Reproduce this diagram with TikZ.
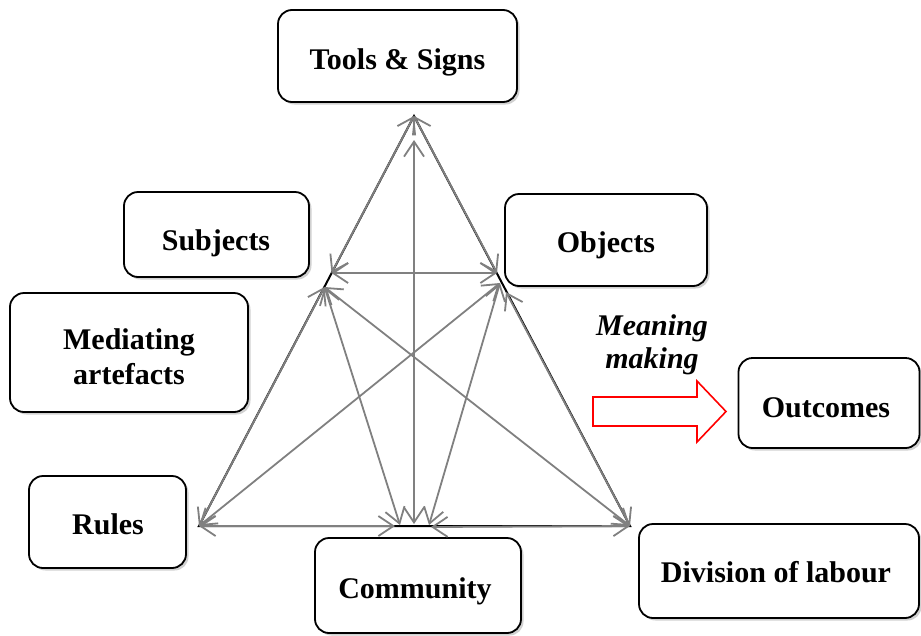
\documentclass[tikz,border=0pt]{standalone}
\usepackage{fontspec}
\setmainfont{Liberation Serif}
\usetikzlibrary{arrows.meta,shadows}
\definecolor{linkgray}{HTML}{808080}
\begin{document}
\begin{tikzpicture}[x=1pt,y=-1pt,
  box/.style={draw=black, line width=1.8pt, rounded corners=14pt, fill=white, inner sep=0pt,
    drop shadow={shadow xshift=2.5pt, shadow yshift=-2.5pt, opacity=0.3, fill=black!60}},
  lbl/.style={anchor=base, font=\bfseries\fontsize{30}{35}\selectfont, align=center, inner sep=0pt},
  link/.style={draw=linkgray, line width=1.8pt,
    {Straight Barb[length=15pt,width=20pt]}-{Straight Barb[length=15pt,width=20pt]}},
  edge/.style={draw=black, line width=2pt}
]
\useasboundingbox (0,0) rectangle (921,635);

% boxes
\node[box, minimum width=239pt, minimum height=92pt] (toolsbox) at (397.5,56) {};
\node[box, minimum width=185pt, minimum height=85pt] (subjbox) at (216.5,234.5) {};
\node[box, minimum width=238pt, minimum height=119pt] (medbox) at (129,352.5) {};
\node[box, minimum width=202pt, minimum height=92pt] (objbox) at (606,240) {};
\node[box, minimum width=181pt, minimum height=90pt] (outbox) at (829,403) {};
\node[box, minimum width=157pt, minimum height=92pt] (rulesbox) at (107.5,522) {};
\node[box, minimum width=206pt, minimum height=95pt] (commbox) at (418,585.5) {};
\node[box, minimum width=280pt, minimum height=94pt] (divbox) at (779,571) {};

% labels
\node[lbl] (toolslbl) at (397.5,69) {Tools \& Signs};
\node[lbl] (subjlbl) at (216,250) {Subjects};
\node[lbl] (medlbl) at (129,384) {Mediating\\artefacts};
\node[lbl] (objlbl) at (606,252) {Objects};
\node[lbl] (outlbl) at (826,417) {Outcomes};
\node[lbl] (ruleslbl) at (108,534) {Rules};
\node[lbl] (commlbl) at (415,598) {Community};
\node[lbl] (divlbl) at (776,582) {Division of labour};
\node[lbl, font=\bfseries\itshape\fontsize{30}{33}\selectfont] (meanlbl) at (652,368) {Meaning\\making};

% points of the triangle
\coordinate (T) at (414,116);
\coordinate (BL) at (199,526);
\coordinate (BR) at (630,526);
\coordinate (S1) at (331.5,273);
\coordinate (S2) at (324.5,287);
\coordinate (O1) at (497,273);
\coordinate (O2) at (500,283);
\coordinate (O3) at (506,292);
\coordinate (C1) at (395,526);
\coordinate (C2) at (400,525);
\coordinate (C3) at (429,525);
\coordinate (C4) at (431,527);
\coordinate (V1) at (414,140);
\coordinate (V2) at (414,524);

% black triangle
\draw[edge] (T) -- (BL) -- (BR) -- cycle;

% links
\draw[link] (T) -- (S1);
\draw[link] (T) -- (O1);
\draw[link] (S1) -- (O1);
\draw[link] (S2) -- (BL);
\draw[link] (O3) -- (BR);
\draw[link] (BL) -- (C1);
\draw[link] (C4) -- (BR);
\draw[link] (V1) -- (V2);
\draw[link] (S2) -- (C2);
\draw[link] (O2) -- (C3);
\draw[link] (S2) -- (BR);
\draw[link] (O2) -- (BL);

% meaning making arrow
\draw[red, line width=1.6pt, fill=white, line join=miter]
  (593,397) -- (697,397) -- (697,381) -- (726,411.5) -- (697,442) -- (697,426) -- (593,426) -- cycle;
\end{tikzpicture}
\end{document}
